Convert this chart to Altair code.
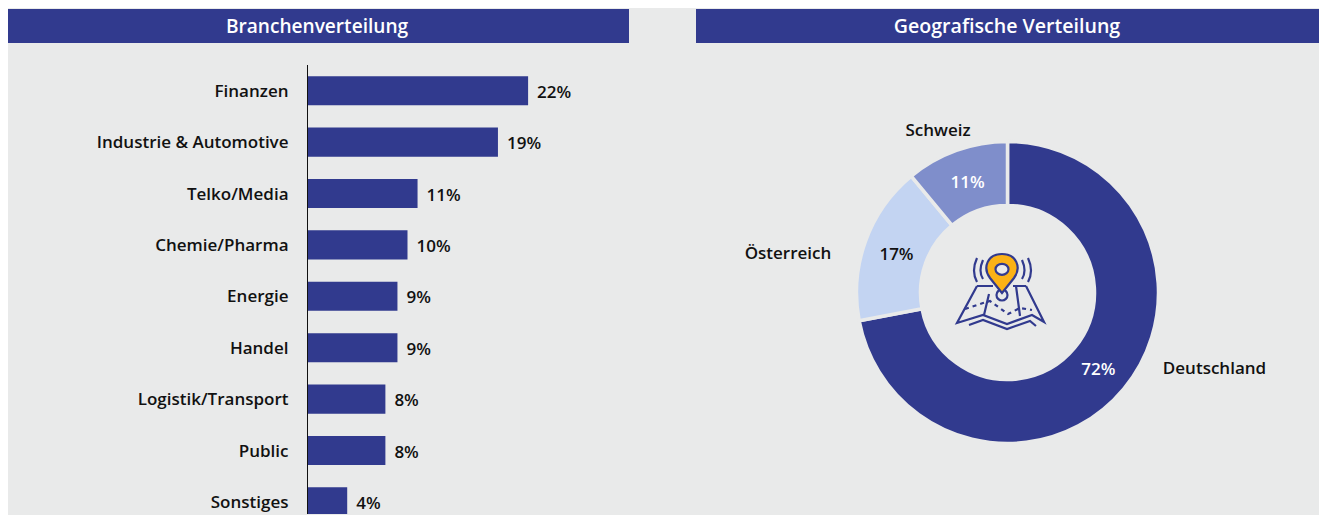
import altair as alt
import pandas as pd

NAVY = "#313A8E"
MID = "#7F8ECB"
LIGHT = "#C3D4F2"
BG = "#E9EAEA"
INK = "#111111"
FONT = "Open Sans"

branches = ["Finanzen", "Industrie & Automotive", "Telko/Media", "Chemie/Pharma", "Energie",
            "Handel", "Logistik/Transport", "Public", "Sonstiges"]
shares = [22.0, 19.0, 11.0, 10.0, 9.0, 9.0, 7.8, 7.8, 4.0]
share_labels = ["22%", "19%", "11%", "10%", "9%", "9%", "8%", "8%", "4%"]

regions = ["Deutschland", "Österreich", "Schweiz"]
region_shares = [72, 17, 11]
region_labels = ["72%", "17%", "11%"]
region_order = [0, 1, 2]

blank = pd.DataFrame({"a": [0]})
H = 506


def header(text, left, right, center, size):
    rect = alt.Chart(blank).mark_rect(color=NAVY).encode(
        x=alt.value(left), x2=alt.value(right), y=alt.value(1), y2=alt.value(35))
    label = alt.Chart(blank).mark_text(
        text=text, color="white", font=FONT, fontSize=size, fontWeight=600,
        align="center", baseline="middle").encode(
        x=alt.value(center), y=alt.value(18.5))
    return rect + label


bars_df = pd.DataFrame({"branch": branches, "share": shares, "label": share_labels})
y_enc = alt.Y("branch:N", sort=branches, title=None,
              scale=alt.Scale(domain=branches, range=[57, 519.6], paddingInner=0.434, paddingOuter=0.217),
              axis=alt.Axis(domain=False, ticks=False, labelPadding=19, labelFont=FONT, labelFontSize=17,
                            labelFontWeight=600, labelColor=INK, grid=False, labelLimit=300, labelOffset=1))
x_enc = alt.X("share:Q", title=None, axis=None, scale=alt.Scale(domain=[0, 32.04], range=[0, 322], nice=False))

bars = alt.Chart(bars_df).mark_bar(color=NAVY, clip=True).encode(x=x_enc, y=y_enc)
bar_text = alt.Chart(bars_df).mark_text(
    align="left", baseline="middle", dx=9, dy=2, font=FONT, fontSize=17, fontWeight=600, color=INK
).encode(x=x_enc, y=y_enc, text="label:N")
axis_line = alt.Chart(blank).mark_rule(color="#111111", strokeWidth=1).encode(
    x=alt.value(0.5), y=alt.value(57), y2=alt.value(H))

left = alt.layer(header("Branchenverteilung", -299, 322, 10, 19.1), bars, bar_text, axis_line).properties(width=322, height=H)

# ---- donut ----
CX, CY = 311.5, 284.5
donut_df = pd.DataFrame({"region": regions, "share": region_shares, "label": region_labels, "ord": region_order})
theta = alt.Theta("share:Q", stack=True, scale=alt.Scale(range=[0, 6.283185307]))
order = alt.Order("ord:Q")
arc = alt.Chart(donut_df).mark_arc(outerRadius=151, innerRadius=87, stroke=BG, strokeWidth=3.5).encode(
    theta=theta, order=order, x=alt.value(CX), y=alt.value(CY),
    color=alt.Color("region:N", legend=None,
                    scale=alt.Scale(domain=regions, range=[NAVY, LIGHT, MID])))
arc_text = alt.Chart(donut_df).mark_text(
    radius=118, dy=2, font=FONT, fontSize=17, fontWeight=600, align="center", baseline="middle"
).encode(theta=theta, order=order, x=alt.value(CX), y=alt.value(CY), text="label:N",
         color=alt.condition(alt.datum.region == "Österreich", alt.value(INK), alt.value("white")))


def outside(text, x, y):
    return alt.Chart(blank).mark_text(
        text=text, font=FONT, fontSize=17, fontWeight=600, color=INK, align="center", baseline="middle"
    ).encode(x=alt.value(x), y=alt.value(y))


# ---- icon: paths are relative to the icon origin, drawn at 1:1 pixels (size=4) ----
IX, IY = 306, 283


def glyph(path, fill=None, dash=None, width=2.2):
    kw = dict(shape=path, size=4, stroke=NAVY, strokeWidth=width, opacity=1)
    if fill:
        kw.update(filled=True, fill=fill)
    else:
        kw.update(filled=False, fill="transparent")
    if dash:
        kw["strokeDash"] = dash
    return alt.Chart(blank).mark_point(**kw).encode(x=alt.value(IX), y=alt.value(IY))


icon_paths = [
    ("M-25,-5 L-9,-5 M11,-5 L24,-5 M24,-5 L42,31 L30,24 L5,33 L-19,24 L-45,32 L-25,-5", None, None),
    ("M-13,3 L-18,24 M14,-5 L18,25", None, None),
    ("M-33,34 L-19,29 L5,38 L28,30 L34,35", None, None),
    ("M-37,18 L-19,12 L-12,10 L6,23 L18,17 L30,19", None, [4, 4]),
    ("M-25,-33 Q-31,-20 -25,-9 M-19,-31 Q-24,-20 -19,-12 M26,-33 Q32,-20 26,-9 M20,-31 Q25,-20 20,-12", None, None),
    ("M-5.5,4 A5.5,5.5 0 1 0 5.5,4 A5.5,5.5 0 1 0 -5.5,4 Z", BG, None),
    ("M0,2 L-12,-13 C-20,-24 -14,-37 0,-37 C14,-37 20,-24 12,-13 Z", "#FBB216", None),
    ("M-6.5,-21.7 A6.5,5.5 0 1 0 6.5,-21.7 A6.5,5.5 0 1 0 -6.5,-21.7 Z", BG, None),
]
icon = alt.layer(*[glyph(p, f, d) for p, f, d in icon_paths])

right = alt.layer(
    header("Geografische Verteilung", 0, 623, 311, 19.6), arc, arc_text,
    outside("Schweiz", 242, 123), outside("Österreich", 92, 246), outside("Deutschland", 518.5, 361),
    icon,
).properties(width=623, height=H)

chart = alt.hconcat(left, right, spacing=67).resolve_scale(color="independent", x="independent", y="independent").properties(
    padding=0, background=BG
).configure_view(stroke=None)

chart.save("out.html", embed_options={"renderer": "svg", "actions": False})
